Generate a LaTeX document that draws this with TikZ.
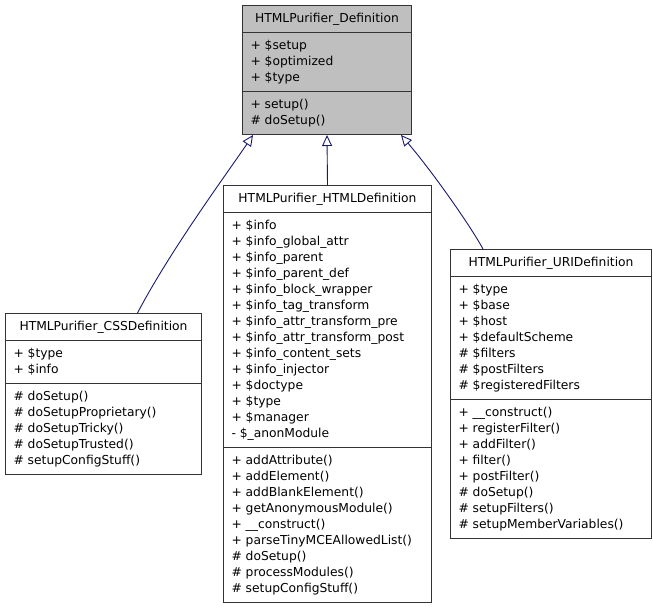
\documentclass[tikz,border=0pt]{standalone}
\usepackage{fontspec}
\setmainfont{DejaVu Sans}
\usetikzlibrary{shapes.multipart,arrows.meta}

\definecolor{edgeblue}{HTML}{191970}
\definecolor{basegray}{HTML}{BFBFBF}
\newcommand{\umlrow}[1]{\strut#1}

\tikzset{
    classbox/.style={rectangle split, rectangle split parts=3,
        rectangle split part align={center,left,left},
        draw=black!80, line width=1pt, align=left,
        inner xsep=8pt, inner ysep=5pt, anchor=north west,
        font=\fontsize{12.3}{16}\selectfont},
    inherit/.style={draw=edgeblue, line width=0.9pt,
        -{Triangle[open,length=11pt,width=10pt]}}
}

\begin{document}
\begin{tikzpicture}[x=1pt,y=-1pt]
    \useasboundingbox (0,0) rectangle (653,608);

    \node[classbox, fill=basegray, minimum width=169pt] (base) at (242,5) {\umlrow{HTMLPurifier\_Definition}
        \nodepart{second}\umlrow{+ \$setup}\\\umlrow{+ \$optimized}\\\umlrow{+ \$type}
        \nodepart{third}\umlrow{+ setup()}\\\umlrow{\# doSetup()}};

    \node[classbox, minimum width=196pt] (css) at (5,313) {\umlrow{HTMLPurifier\_CSSDefinition}
        \nodepart{second}\umlrow{+ \$type}\\\umlrow{+ \$info}
        \nodepart{third}\umlrow{\# doSetup()}\\\umlrow{\# doSetupProprietary()}\\\umlrow{\# doSetupTricky()}\\
        \umlrow{\# doSetupTrusted()}\\\umlrow{\# setupConfigStuff()}};

    \node[classbox, minimum width=208pt] (html) at (223,185) {\umlrow{HTMLPurifier\_HTMLDefinition}
        \nodepart{second}\umlrow{+ \$info}\\\umlrow{+ \$info\_global\_attr}\\\umlrow{+ \$info\_parent}\\
        \umlrow{+ \$info\_parent\_def}\\\umlrow{+ \$info\_block\_wrapper}\\\umlrow{+ \$info\_tag\_transform}\\
        \umlrow{+ \$info\_attr\_transform\_pre}\\\umlrow{+ \$info\_attr\_transform\_post}\\
        \umlrow{+ \$info\_content\_sets}\\\umlrow{+ \$info\_injector}\\\umlrow{+ \$doctype}\\
        \umlrow{+ \$type}\\\umlrow{+ \$manager}\\\umlrow{- \$\_anonModule}
        \nodepart{third}\umlrow{+ addAttribute()}\\\umlrow{+ addElement()}\\\umlrow{+ addBlankElement()}\\
        \umlrow{+ getAnonymousModule()}\\\umlrow{+ \_\_construct()}\\\umlrow{+ parseTinyMCEAllowedList()}\\
        \umlrow{\# doSetup()}\\\umlrow{\# processModules()}\\\umlrow{\# setupConfigStuff()}};

    \node[classbox, minimum width=201pt] (uri) at (450,249) {\umlrow{HTMLPurifier\_URIDefinition}
        \nodepart{second}\umlrow{+ \$type}\\\umlrow{+ \$base}\\\umlrow{+ \$host}\\\umlrow{+ \$defaultScheme}\\
        \umlrow{\# \$filters}\\\umlrow{\# \$postFilters}\\\umlrow{\# \$registeredFilters}
        \nodepart{third}\umlrow{+ \_\_construct()}\\\umlrow{+ registerFilter()}\\\umlrow{+ addFilter()}\\
        \umlrow{+ filter()}\\\umlrow{+ postFilter()}\\\umlrow{\# doSetup()}\\\umlrow{\# setupFilters()}\\
        \umlrow{\# setupMemberVariables()}};

    \coordinate (baseL) at ([xshift=11pt]base.south west);
    \coordinate (baseR) at ([xshift=-11pt]base.south east);
    \coordinate (cssTop) at ([xshift=34pt]css.north);
    \coordinate (uriTop) at ([xshift=33pt]uri.north west);

    \draw[inherit] (cssTop) .. controls +(33,-63) and +(-25,37) .. (baseL);
    \draw[inherit] (html.north) -- (base.south);
    \draw[inherit] (uriTop) .. controls +(-13,-24) and +(30,35) .. (baseR);
\end{tikzpicture}
\end{document}
